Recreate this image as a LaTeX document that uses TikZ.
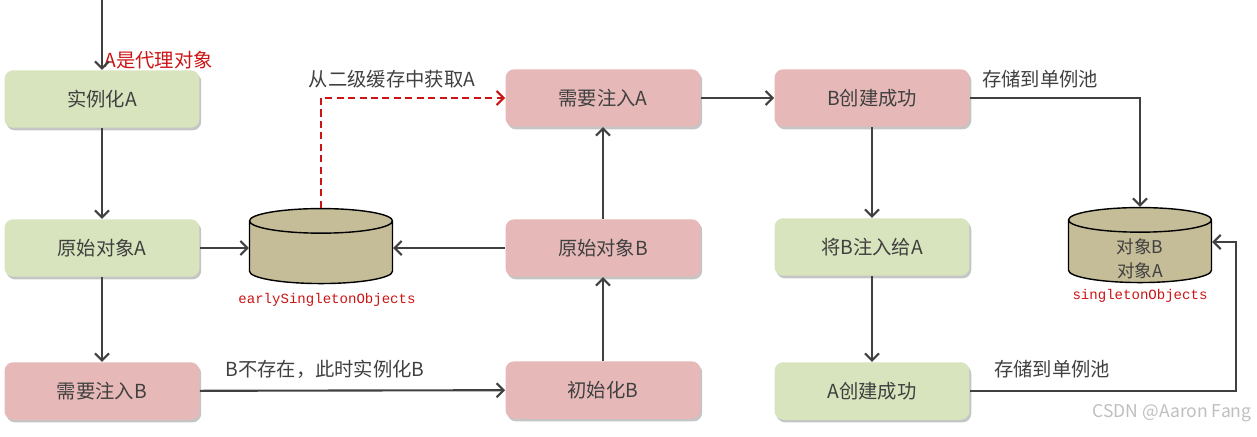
\documentclass[tikz,border=0pt]{standalone}
\usepackage{fontspec}
\setmainfont{Noto Sans CJK SC}
\setmonofont{Liberation Mono}
\usepackage{tikz}
\usetikzlibrary{shapes.geometric,shadows,arrows.meta}
\definecolor{boxgreen}{RGB}{215,228,189}
\definecolor{boxpink}{RGB}{230,185,184}
\definecolor{dbtan}{RGB}{196,189,151}
\definecolor{linegray}{RGB}{64,64,64}
\definecolor{notered}{RGB}{204,20,20}

\begin{document}
\begin{tikzpicture}[x=0.02cm, y=-0.02cm,
	stepbox/.style={rounded corners=5pt, minimum width=3.9cm, minimum height=1.15cm,
		text=linegray, font=\fontsize{11}{13}\selectfont,
		drop shadow={shadow xshift=1pt, shadow yshift=-1.5pt, fill=black!45, opacity=.5}},
	greenbox/.style={stepbox, fill=boxgreen},
	pinkbox/.style={stepbox, fill=boxpink},
	store/.style={cylinder, shape border rotate=90, aspect=2.1, draw=black, line width=0.8pt,
		fill=dbtan, minimum width=2.86cm, minimum height=1.5cm},
	flow/.style={draw=linegray, line width=1.2pt, -{Straight Barb[length=4pt,width=8pt]}},
	cache/.style={draw=notered, line width=1.2pt, dash pattern=on 4pt off 2.5pt,
		-{Straight Barb[length=4pt,width=8pt]}},
	note/.style={text=linegray, font=\fontsize{11}{13}\selectfont},
	rednote/.style={text=notered, font=\fontsize{11}{13}\selectfont},
	codename/.style={text=notered, font=\ttfamily\fontsize{8}{10}\selectfont}]
	\useasboundingbox (0,0) rectangle (1257,436);
	% left column
	\coordinate (entry) at (102,0);
	\node[greenbox] (instA) at (102,99) {实例化A};
	\node[greenbox] (rawA) at (102,248) {原始对象A};
	\node[pinkbox] (needB) at (102,391) {需要注入B};
	\node[rednote, anchor=west, inner sep=0pt] (proxy) at (104,60) {A是代理对象};
	% second level cache
	\node[store] (early) at (321,255) {};
	\node[codename] (earlyname) at (327,300) {earlySingletonObjects};
	% middle column
	\node[pinkbox] (needA) at (603,98) {需要注入A};
	\node[pinkbox] (rawB) at (603,248) {原始对象B};
	\node[pinkbox] (initB) at (603,390) {初始化B};
	% right column
	\node[pinkbox] (bDone) at (872,98) {B创建成功};
	\node[greenbox] (injA) at (872,247) {将B注入给A};
	\node[greenbox] (aDone) at (872,391) {A创建成功};
	% singleton pool
	\node[store] (pool) at (1140,254) {};
	\node[text=linegray, align=center, font=\fontsize{10}{13.5}\selectfont, inner sep=0pt] (poolitems) at (1140,259) {对象B\\对象A};
	\node[codename] (poolname) at (1140,296) {singletonObjects};
	\coordinate (turn) at (1236,391);
	% connectors
	\draw[flow] (entry) -- (instA);
	\draw[flow] (instA) -- (rawA);
	\draw[flow] (rawA) -- (needB);
	\draw[flow] (rawA.east) -- (rawA.east -| early.west);
	\draw[flow] (needB) -- (initB);
	\node[note] (newB) at (325,369) {B不存在，此时实例化B};
	\draw[flow] (initB) -- (rawB);
	\draw[flow] (rawB.west) -- (rawB.west -| early.east);
	\draw[flow] (rawB) -- (needA);
	\draw[cache] (early.north) |- (needA.west);
	\node[note] (fetchA) at (392,79) {从二级缓存中获取A};
	\draw[flow] (needA) -- (bDone);
	\draw[flow] (bDone) -- (injA);
	\draw[flow] (injA) -- (aDone);
	\draw[flow] (bDone.east) -| (pool.north);
	\node[note] (saveB) at (1040,79) {存储到单例池};
	\draw[flow] (aDone.east) -- (turn) |- ([yshift=0.24cm]pool.east);
	\node[note] (saveA) at (1052,369) {存储到单例池};
	\node[text=black!25, font=\fontsize{10}{12}\selectfont] (mark) at (1172,413) {CSDN @Aaron Fang};
\end{tikzpicture}
\end{document}
